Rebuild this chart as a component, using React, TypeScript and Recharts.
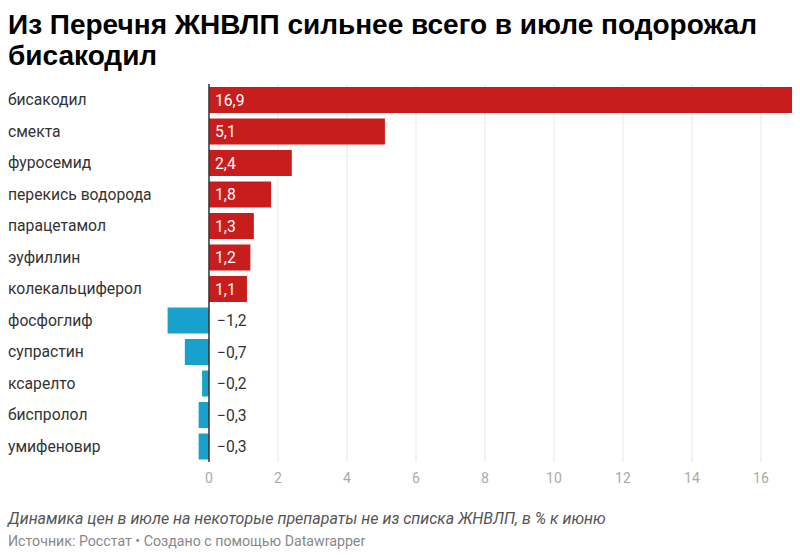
import { BarChart, Bar, XAxis, YAxis, CartesianGrid, ReferenceLine, Cell, LabelList } from "recharts"

const drugs = [
  "бисакодил",
  "смекта",
  "фуросемид",
  "перекись водорода",
  "парацетамол",
  "эуфиллин",
  "колекальциферол",
  "фосфоглиф",
  "супрастин",
  "ксарелто",
  "биспролол",
  "умифеновир",
]
const changes = [16.9, 5.1, 2.4, 1.8, 1.3, 1.2, 1.1, -1.2, -0.7, -0.2, -0.3, -0.3]
const xTicks = [0, 2, 4, 6, 8, 10, 12, 14, 16]

const RED = "#c71e1d"
const BLUE = "#18a1cd"
const FONT = "Roboto, 'Noto Sans', sans-serif"

const data = drugs.map((name, i) => ({ name, value: changes[i] }))

const fmt = (v: number) => (v < 0 ? "\u2212" : "") + Math.abs(v).toFixed(1).replace(".", ",")

function DrugTick({ y, payload }: any) {
  return (
    <text x={8} y={y} dy={5.5} fontSize={15.7} fill="#333" fontFamily={FONT} textAnchor="start">
      {payload.value}
    </text>
  )
}

function ValueLabel(props: any) {
  const { x, y, height, value } = props
  const neg = value < 0
  // positive: inside the bar in white; negative: to the right of zero line
  const tx = neg ? x + 8 : x + 6
  return (
    <text x={tx} y={y + height / 2} dy={5.5} fontSize={15.7} fill={neg ? "#333" : "#fff"} fontFamily={FONT}>
      {fmt(value)}
    </text>
  )
}

export default function App() {
  return (
    <div style={{ position: "absolute", left: 0, top: 0, width: 800, height: 558, background: "#fff", fontFamily: FONT }}>
      <div
        style={{
          position: "absolute",
          left: 8,
          top: 9,
          width: 790,
          fontFamily: "'Liberation Sans', Arial, sans-serif",
          fontWeight: 700,
          fontSize: 28,
          lineHeight: "31px",
          color: "#000",
        }}
      >
        Из Перечня ЖНВЛП сильнее всего в июле подорожал бисакодил
      </div>
      <div style={{ position: "absolute", left: 0, top: 80 }}>
        <BarChart
          width={800}
          height={422}
          data={data}
          layout="vertical"
          margin={{ top: 4, right: 8, bottom: 0, left: 0 }}
          barSize={26}
        >
          <CartesianGrid horizontal={false} stroke="#e6e6e6" verticalValues={xTicks} />
          <XAxis
            type="number"
            domain={[-1.2, 16.9]}
            ticks={xTicks}
            axisLine={false}
            tickLine={false}
            tickSize={0}
            tickMargin={11}
            height={40}
            tick={{ fontSize: 14, fill: "#aaa", fontFamily: FONT }}
          />
          <YAxis
            type="category"
            dataKey="name"
            width={167.6}
            axisLine={false}
            tickLine={false}
            tick={<DrugTick />}
            interval={0}
          />
          <Bar dataKey="value" isAnimationActive={false}>
            {data.map((d, i) => (
              <Cell key={i} fill={d.value < 0 ? BLUE : RED} />
            ))}
            <LabelList dataKey="value" content={<ValueLabel />} />
          </Bar>
          <ReferenceLine x={0} stroke="#333" strokeWidth={1.5} />
        </BarChart>
      </div>
      <div
        style={{
          position: "absolute",
          left: 8,
          top: 509,
          fontSize: 16,
          fontStyle: "italic",
          color: "#555",
        }}
      >
        Динамика цен в июле на некоторые препараты не из списка ЖНВЛП, в % к июню
      </div>
      <div style={{ position: "absolute", left: 8, top: 533, fontSize: 14.2, color: "#888" }}>
        Источник: Росстат • Создано с помощью Datawrapper
      </div>
    </div>
  )
}
